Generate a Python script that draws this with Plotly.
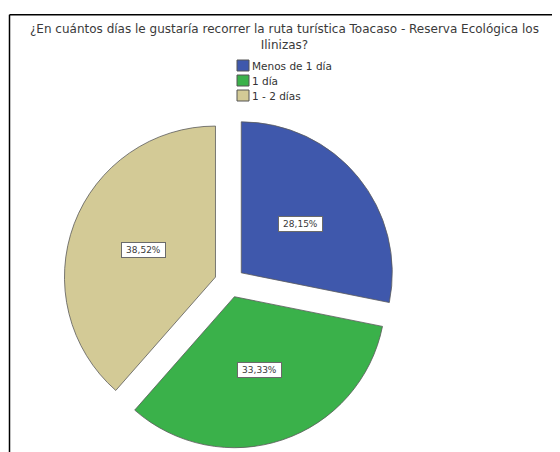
import math
import plotly.graph_objects as go

# ---- data ----
categories = ["Menos de 1 día", "1 día", "1 - 2 días"]
percentages = [28.15, 33.33, 38.52]
pct_labels = ["28,15%", "33,33%", "38,52%"]
title_text = ("¿En cuántos días le gustaría recorrer la ruta turística Toacaso - Reserva Ecológica los"
              "<br>Ilinizas?")

# ---- styles / geometry ----
colors = ["#3F58AC", "#3AB14A", "#D3CA96"]
W, H = 560, 452
OFF = 8                 # page body margin compensation
cx, cy = 229.6, 282.4   # pie centre in px (from top-left of window)
r = 151
pull = 0.1
half = r * (1 + pull)


def px(x):
    return (x - OFF) / W


def py(y):
    return 1 - (y - OFF) / H


fig = go.Figure()
fig.add_trace(go.Pie(
    labels=categories,
    values=percentages,
    sort=False,
    direction="clockwise",
    rotation=0,
    pull=[pull] * len(categories),
    marker=dict(colors=colors, line=dict(color="#5a5a5a", width=0.8)),
    textinfo="none",
    hoverinfo="label+percent",
    showlegend=False,
    domain=dict(x=[px(cx - half), px(cx + half)],
                y=[py(cy + half), py(cy - half)]),
))

annotations = []
shapes = []

# percentage labels in white boxes, placed along each slice's mid angle
total = sum(percentages)
cum = 0.0
for val, lab in zip(percentages, pct_labels):
    mid = (cum + val / 2) / total * 2 * math.pi
    cum += val
    dist = pull * r + 0.51 * r
    lx = cx + dist * math.sin(mid)
    ly = cy - dist * math.cos(mid)
    annotations.append(dict(
        x=px(lx), y=py(ly), xref="paper", yref="paper",
        text=lab, showarrow=False,
        font=dict(family="DejaVu Sans", size=9, color="#3a3a3a"),
        bgcolor="white", bordercolor="#6a6a6a", borderwidth=1,
        borderpad=1, width=41, height=12,
        xanchor="center", yanchor="middle",
    ))

# custom compact legend
for i, (cat, col) in enumerate(zip(categories, colors)):
    top = 60 + 15 * i
    shapes.append(dict(type="rect", xref="paper", yref="paper",
                       x0=px(237), x1=px(249), y0=py(top + 11), y1=py(top),
                       fillcolor=col, line=dict(color="#555555", width=1)))
    annotations.append(dict(
        x=px(250), y=py(top + 5.5), xref="paper", yref="paper",
        text=cat, showarrow=False, xanchor="left", yanchor="middle",
        font=dict(family="DejaVu Sans", size=10.5, color="#333333"),
    ))

# title (two lines in one text)
annotations.append(dict(x=px(284), y=py(37), xref="paper", yref="paper",
                        text=title_text, showarrow=False,
                        xanchor="center", yanchor="middle", align="center",
                        font=dict(family="DejaVu Sans", size=12, color="#3a3a3a")))

# chart frame (top and left edges visible)
shapes.append(dict(type="line", xref="paper", yref="paper",
                   x0=px(9.5), x1=1.05, y0=py(14.7), y1=py(14.7),
                   line=dict(color="black", width=1.5)))
shapes.append(dict(type="line", xref="paper", yref="paper",
                   x0=px(9.5), x1=px(9.5), y0=py(14.7), y1=-0.05,
                   line=dict(color="black", width=1.5)))

fig.update_layout(
    width=W, height=H,
    margin=dict(l=0, r=0, t=0, b=0),
    paper_bgcolor="white", plot_bgcolor="white",
    annotations=annotations, shapes=shapes,
    showlegend=False,
)

fig.write_html("out.html")
